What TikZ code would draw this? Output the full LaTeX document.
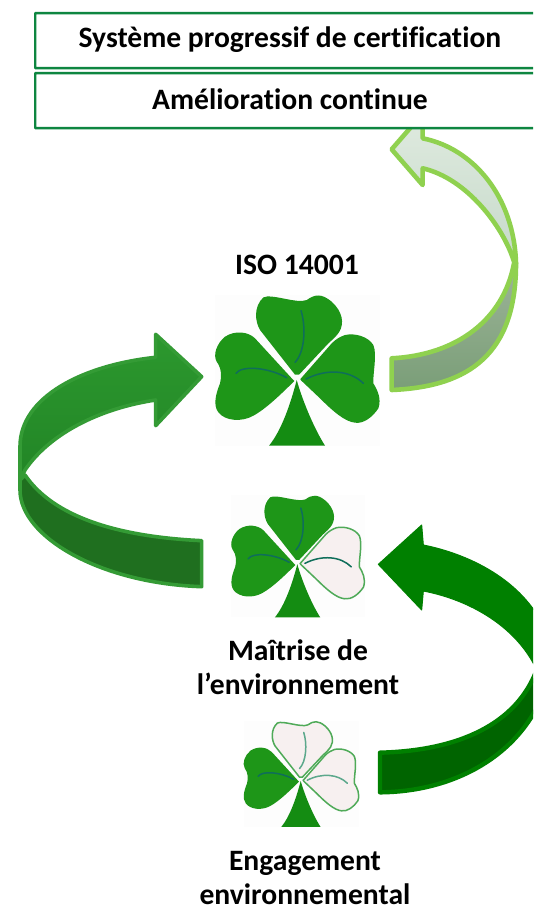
\documentclass[tikz,border=0pt]{standalone}
\usepackage{fontspec}
\setmainfont[Ligatures=NoCommon]{Carlito}
\definecolor{leafgreen}{HTML}{1E9618}
\definecolor{stemgreen}{HTML}{148C12}
\definecolor{veingreen}{HTML}{0F6E5A}
\definecolor{veinlight}{HTML}{5CA88C}
\definecolor{paleleaf}{HTML}{F7F0F0}
\definecolor{leafedge}{HTML}{4FAA58}
\definecolor{boxgreen}{HTML}{0E8640}
\definecolor{limeedge}{HTML}{8FD14F}
\definecolor{paletop}{HTML}{DFEADF}
\definecolor{palebot}{HTML}{C6DACA}
\definecolor{greytop}{HTML}{9DB498}
\definecolor{greybot}{HTML}{7A9E78}
\definecolor{midedge}{HTML}{349B35}
\definecolor{midtop}{HTML}{2C982E}
\definecolor{midbot}{HTML}{228526}
\definecolor{midlow}{HTML}{1F6F1F}
\definecolor{deepgreen}{HTML}{008000}
\definecolor{deeplow}{HTML}{006400}
\definecolor{cloverbg}{HTML}{FDFDFD}
\tikzset{
  titlebox/.style={draw=boxgreen,line width=2.4pt,fill=white,rounded corners=0.5pt},
  caption/.style={font=\bfseries\fontsize{29.6}{34.5}\selectfont,text=black,align=center,inner sep=0pt},
  leafon/.style={fill=leafgreen},
  leafoff/.style={fill=paleleaf,draw=leafedge,line width=1.5pt},
  vein/.style={draw=veingreen,line width=1.5pt,line cap=round},
  veinoff/.style={draw=veinlight,line width=1.5pt,line cap=round},
  arrowjoin/.style={line join=round}
}
\newcommand{\clover}[8]{%
 \begin{scope}[shift={(#1,#2)},scale=#3/3,shift={(-290,-293)}]
  \fill[cloverbg] (45,45) rectangle (540,497);
  \path[#4] (285,284) -- (180,150)
   .. controls (165,125) and (160,80) .. (190,52)
   .. controls (215,40) and (290,72) .. (320,60)
   .. controls (345,42) and (365,40) .. (395,65)
   .. controls (428,95) and (433,130) .. (418,155)
   .. controls (410,168) and (398,178) .. (385,190) -- (297,284) -- cycle;
  \path[#5] (301,297) -- (395,190)
   .. controls (408,177) and (420,170) .. (435,165)
   .. controls (465,158) and (505,170) .. (520,195)
   .. controls (532,225) and (518,280) .. (520,310)
   .. controls (532,330) and (545,355) .. (535,385)
   .. controls (517,412) and (490,432) .. (465,428)
   .. controls (435,425) and (400,395) .. (360,355) -- (303,301) -- cycle;
  \path[#6] (278,298) -- (165,175)
   .. controls (145,155) and (105,150) .. (75,170)
   .. controls (50,190) and (38,225) .. (50,245)
   .. controls (65,265) and (65,290) .. (60,310)
   .. controls (48,340) and (38,375) .. (55,397)
   .. controls (75,423) and (125,427) .. (160,407)
   .. controls (200,385) and (245,340) .. (283,303) -- cycle;
  \fill[stemgreen] (290,300) .. controls (272,370) and (245,450) .. (207,497)
   -- (375,497) .. controls (345,450) and (310,370) .. (290,300) -- cycle;
  \path[#7] (303,92) .. controls (318,140) and (315,215) .. (285,247);
  \path[#8] (318,297) .. controls (380,265) and (450,270) .. (490,310);
  \path[vein] (108,280) .. controls (125,255) and (205,262) .. (260,293);
 \end{scope}}
\begin{document}
\begin{tikzpicture}[x=1pt,y=-1pt]
\useasboundingbox (0,0) rectangle (533,909);
\clip (0,0) rectangle (533,909);
\fill[white] (0,0) rectangle (533,909);

% clovers
\clover{296.7}{377.7}{1}{leafon}{leafon}{leafon}{vein}{vein}
\clover{297.3}{562.3}{0.81}{leafon}{leafoff}{leafon}{vein}{vein}
\clover{300.7}{779.3}{0.70}{leafoff}{leafoff}{leafon}{veinoff}{veinoff}

% light arrow (upper right)
\begin{scope}[shift={(370,120)},scale=1/3,arrowjoin]
 \path[draw=limeedge,line width=4.6pt,top color=greytop,bottom color=greybot]
  (432,430) .. controls (400,600) and (260,705) .. (65,715)
  -- (65,810) .. controls (300,800) and (438,700) .. (438,430) -- cycle;
 \path[draw=limeedge,line width=4.6pt,top color=paletop,bottom color=palebot]
  (65,88) -- (158,-19) -- (158,55)
  .. controls (310,85) and (432,230) .. (438,430)
  -- (432,425) .. controls (400,320) and (290,175) .. (158,145)
  -- (158,195) -- cycle;
\end{scope}

% mid green arrow (left)
\begin{scope}[shift={(0,320)},scale=1/3,arrowjoin]
 \path[draw=midedge,line width=3.6pt,fill=midlow]
  (75,465) -- (60,480) -- (60,510) .. controls (60,650) and (300,790) .. (605,800)
  -- (605,662) .. controls (350,650) and (160,590) .. (75,465) -- cycle;
 \path[draw=midedge,line width=3.6pt,top color=midtop,bottom color=midbot]
  (605,170) -- (467,43) -- (467,112)
  .. controls (250,135) and (60,230) .. (60,380)
  -- (60,480) -- (75,450)
  .. controls (150,340) and (300,265) .. (467,240)
  -- (467,317) -- cycle;
\end{scope}

% deep green arrow (lower right)
\begin{scope}[shift={(360,510)},scale=1/3,arrowjoin]
 \path[draw=deepgreen,line width=4.4pt,fill=deeplow]
  (530,480) .. controls (470,640) and (300,722) .. (60,728)
  -- (60,847) .. controls (300,845) and (500,720) .. (560,520) -- cycle;
 \path[draw=deepgreen,line width=1pt,fill=deepgreen]
  (55,163) -- (185,45) -- (190,105)
  .. controls (340,135) and (500,220) .. (560,370)
  -- (560,500) -- (530,480)
  .. controls (470,350) and (330,270) .. (190,243)
  -- (185,300) -- cycle;
\end{scope}

% title boxes
\node[titlebox,minimum width=512pt,minimum height=55pt,anchor=north west,inner sep=0pt] (cert) at (34,12) {};
\node[titlebox,minimum width=512pt,minimum height=55pt,anchor=north west,inner sep=0pt] (amel) at (34,72) {};
\node[caption] (certtext) at (290,39.5) {Système progressif de certification};
\node[caption] (ameltext) at (290,99.5) {Amélioration continue};
\node[caption] (iso) at (297,265) {ISO 14001};
\node[caption] (maitrise) at (298,667) {Maîtrise de\\l’environnement};
\node[caption] (engage) at (305,878) {Engagement\\environnemental};
\end{tikzpicture}
\end{document}
